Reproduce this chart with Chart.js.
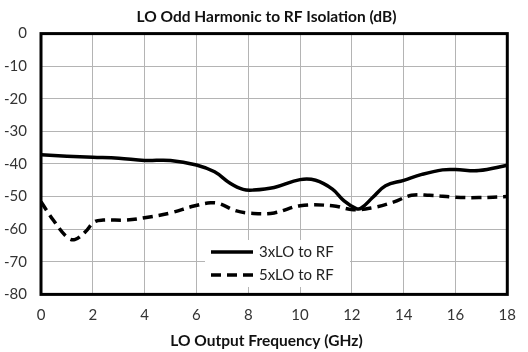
<!DOCTYPE html>
<html>
<head>
<meta charset="utf-8">
<script src="https://cdn.jsdelivr.net/npm/chart.js@4/dist/chart.umd.min.js"></script>
<style>
  html, body { margin: 0; padding: 0; background: #fff; }
  #wrap { width: 528px; height: 352px; }
</style>
</head>
<body>
<div id="wrap"><canvas id="myChart"></canvas></div>
<script>
// chart data
var seriesNames = ['3xLO to RF', '5xLO to RF'];
var freq3 = [0, 1, 2, 3, 4, 5, 6, 6.7, 7.3, 7.8, 8.2, 9, 10, 10.6, 11.25, 11.7, 12.15, 12.35, 12.8, 13.3, 14, 14.7, 15.5, 16, 16.9, 18];
var iso3 = [-37.2, -37.6, -37.9, -38.2, -38.9, -38.9, -40.3, -42.4, -45.9, -47.8, -48, -47.2, -44.8, -45, -47.7, -51.3, -53.6, -53.6, -50.3, -46.7, -45, -43.2, -41.8, -41.7, -42, -40.4];
var freq5 = [0, 0.5, 1, 1.3, 1.7, 2.05, 2.4, 3.3, 4, 5, 5.9, 6.55, 6.9, 7.5, 8.1, 9, 10, 11.25, 12.05, 12.8, 13.6, 14.3, 15, 16, 16.9, 18];
var iso5 = [-51.6, -57.5, -62.4, -63.2, -60.9, -57.8, -57.2, -57.2, -56.5, -55, -52.9, -51.9, -52.2, -54.3, -55.1, -55, -52.8, -52.8, -54, -53.4, -51.7, -49.6, -49.6, -50.2, -50.3, -50];
var xTicks = [0, 2, 4, 6, 8, 10, 12, 14, 16, 18];
var yTicks = [0, -10, -20, -30, -40, -50, -60, -70, -80];

var FONT = 'Lato, "Open Sans", sans-serif';

function toPoints(xs, ys) {
  return xs.map(function (x, i) { return { x: x, y: ys[i] }; });
}

// thick frame round the plot area
var framePlugin = {
  id: 'frame',
  afterLayout: function (chart) {
    // let the y labels use the space left of the axis box (no clipping)
    chart.scales.y.left = 0;
  },
  afterDatasetsDraw: function (chart) {
    var a = chart.chartArea, ctx = chart.ctx;
    ctx.save();
    ctx.strokeStyle = '#000';
    ctx.lineWidth = 3;
    ctx.strokeRect(a.left, a.top, a.right - a.left, a.bottom - a.top);
    ctx.restore();
  }
};

// legend box sitting inside the plot
var insideLegend = {
  id: 'insideLegend',
  afterDraw: function (chart) {
    var ctx = chart.ctx;
    var x0 = 205, y0 = 240;
    ctx.save();
    ctx.fillStyle = '#fff';
    ctx.fillRect(x0, y0, 145, 47);
    chart.data.datasets.forEach(function (ds, i) {
      var y = y0 + 12 + i * 23;
      ctx.beginPath();
      ctx.strokeStyle = '#000';
      ctx.lineWidth = 3.5;
      ctx.setLineDash(ds.borderDash || []);
      ctx.moveTo(x0 + 6, y);
      ctx.lineTo(x0 + 48, y);
      ctx.stroke();
      ctx.setLineDash([]);
      ctx.fillStyle = '#222';
      ctx.font = '15px ' + FONT;
      ctx.textBaseline = 'middle';
      ctx.fillText(ds.label, x0 + 54, y);
    });
    ctx.restore();
  }
};

var chart = new Chart(document.getElementById('myChart'), {
  type: 'line',
  data: {
    datasets: [{
      label: seriesNames[0],
      data: toPoints(freq3, iso3),
      borderColor: '#000',
      borderWidth: 3.5,
      pointRadius: 0,
      tension: 0.4,
      fill: false
    }, {
      label: seriesNames[1],
      data: toPoints(freq5, iso5),
      borderColor: '#000',
      borderWidth: 3.5,
      borderDash: [10, 6],
      pointRadius: 0,
      tension: 0.4,
      fill: false
    }]
  },
  options: {
    responsive: true,
    maintainAspectRatio: false,
    animation: false,
    layout: { padding: { left: 23, right: 18, top: 0, bottom: 0 } },
    plugins: {
      legend: { display: false },
      tooltip: { enabled: false },
      title: {
        display: true,
        text: 'LO Odd Harmonic to RF Isolation (dB)',
        color: '#111',
        font: { family: FONT, size: 15.5, weight: 'bold' },
        padding: { top: 8, bottom: 7 }
      },
      subtitle: {
        display: true,
        position: 'bottom',
        text: 'LO Output Frequency (GHz)',
        color: '#111',
        font: { family: FONT, size: 15.5, weight: 'bold' },
        padding: { top: 7, bottom: 2 }
      }
    },
    scales: {
      x: {
        type: 'linear',
        min: 0,
        max: 18,
        afterBuildTicks: function (s) { s.ticks = xTicks.map(function (v) { return { value: v }; }); },
        afterFit: function (s) { s.height = 30; },
        grid: { color: '#b4b4b4', lineWidth: 1, drawTicks: false },
        border: { display: false },
        ticks: { color: '#333', padding: 12, font: { family: FONT, size: 15 } }
      },
      y: {
        min: -80,
        max: 0,
        afterBuildTicks: function (s) { s.ticks = yTicks.map(function (v) { return { value: v }; }); },
        afterFit: function (s) { s.width = 18; },
        grid: { color: '#b4b4b4', lineWidth: 1, drawTicks: false },
        border: { display: false },
        ticks: { color: '#333', padding: 14, font: { family: FONT, size: 15 } }
      }
    }
  },
  plugins: [framePlugin, insideLegend]
});
</script>
</body>
</html>
